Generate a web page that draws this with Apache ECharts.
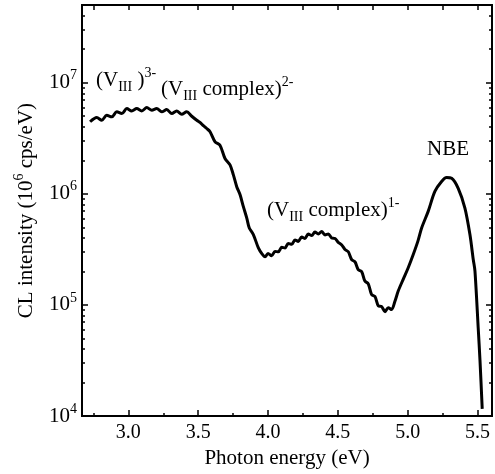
<!DOCTYPE html>
<html><head><meta charset="utf-8">
<script src="https://cdn.jsdelivr.net/npm/echarts@6/dist/echarts.min.js"></script>
<style>html,body{margin:0;padding:0;background:#fff}#c{width:495px;height:474px}</style>
</head><body><div id="c"></div>
<script>
// Photon energy (eV)
const energy = [2.726,2.774,2.810,2.845,2.881,2.917,2.953,2.989,3.024,3.060,3.096,3.132,3.168,3.203,3.239,3.275,3.311,3.346,3.382,3.418,3.454,3.490,3.513,3.537,3.561,3.585,3.621,3.656,3.692,3.728,3.752,3.776,3.800,3.823,3.848,3.866,3.895,3.931,3.957,3.979,4.000,4.026,4.050,4.074,4.098,4.122,4.145,4.170,4.193,4.217,4.241,4.265,4.288,4.313,4.336,4.360,4.384,4.408,4.432,4.456,4.480,4.503,4.528,4.551,4.575,4.599,4.623,4.646,4.671,4.694,4.718,4.742,4.766,4.790,4.814,4.838,4.861,4.885,4.909,4.933,4.968,5.004,5.040,5.074,5.100,5.147,5.195,5.243,5.279,5.315,5.362,5.410,5.446,5.470,5.482,5.505,5.518,5.534];
// CL intensity (cps/eV)
const intensity = [4.45e6,4.86e6,4.59e6,5.09e6,4.93e6,5.47e6,5.27e6,5.85e6,5.57e6,5.85e6,5.57e6,5.97e6,5.65e6,5.85e6,5.47e6,5.73e6,5.27e6,5.57e6,5.20e6,5.47e6,4.99e6,4.59e6,4.39e6,4.10e6,3.87e6,3.62e6,2.94e6,2.74e6,2.08e6,1.82e6,1.48e6,1.16e6,9.80e5,7.71e5,6.05e5,4.92e5,4.30e5,3.26e5,2.88e5,2.71e5,2.91e5,2.77e5,3.03e5,3.01e5,3.30e5,3.26e5,3.58e5,3.51e5,3.85e5,3.73e5,4.09e5,3.97e5,4.35e5,4.22e5,4.54e5,4.35e5,4.58e5,4.27e5,4.35e5,4.01e5,3.97e5,3.66e5,3.47e5,3.16e5,3.01e5,2.56e5,2.44e5,2.08e5,1.99e5,1.64e5,1.55e5,1.24e5,1.19e5,9.80e4,9.66e4,8.71e4,9.46e4,9.08e4,1.08e5,1.34e5,1.70e5,2.16e5,2.84e5,3.77e5,4.92e5,6.95e5,1.05e6,1.29e6,1.40e6,1.38e6,1.12e6,7.45e5,4.30e5,2.55e5,2.02e5,6.27e4,3.17e4,1.16e4];

const xMajor = [3.0,3.5,4.0,4.5,5.0,5.5];
const xMinor = [2.75,3.25,3.75,4.25,4.75,5.25];
const xAll = [2.75,3.0,3.25,3.5,3.75,4.0,4.25,4.5,4.75,5.0,5.25,5.5];
const yMajor = [1e4,1e5,1e6,1e7];
const yMinor = [2e4,3e4,4e4,5e4,6e4,7e4,8e4,9e4,2e5,3e5,4e5,5e5,6e5,7e5,8e5,9e5,2e6,3e6,4e6,5e6,6e6,7e6,8e6,9e6,2e7,3e7,4e7];

const FONT = 'Liberation Serif';
const X_MIN = 2.668, X_MAX = 5.604, Y_MIN = 1e4, Y_MAX = 5e7;

function xAx(pos, ticks, len, opts) {
  return Object.assign({
    type: 'value', position: pos, min: X_MIN, max: X_MAX,
    axisLine: {show: true, lineStyle: {color: '#000', width: 2}},
    axisTick: {show: true, inside: true, length: len, customValues: ticks, lineStyle: {color: '#000', width: 1.5}},
    axisLabel: {show: false}, splitLine: {show: false}
  }, opts || {});
}
function yAx(pos, ticks, len, opts) {
  return Object.assign({
    type: 'log', logBase: 10, position: pos, min: Y_MIN, max: Y_MAX,
    axisLine: {show: true, lineStyle: {color: '#000', width: 2}},
    axisTick: {show: true, inside: true, length: len, customValues: ticks, lineStyle: {color: '#000', width: 1.5}},
    axisLabel: {show: false}, splitLine: {show: false}
  }, opts || {});
}

const tickRich = {
  b: {fontFamily: FONT, fontSize: 21, color: '#000', lineHeight: 28},
  s: {fontFamily: FONT, fontSize: 14, color: '#000', lineHeight: 13, verticalAlign: 'top'}
};
const titleRich = {
  b: {fontFamily: FONT, fontSize: 21, color: '#000', lineHeight: 28},
  s: {fontFamily: FONT, fontSize: 14, color: '#000', lineHeight: 13, verticalAlign: 'top'}
};
const annRich = {
  a: {fontFamily: FONT, fontSize: 21, color: '#000', lineHeight: 28},
  d: {fontFamily: FONT, fontSize: 14, color: '#000', lineHeight: 13, verticalAlign: 'bottom'},
  u: {fontFamily: FONT, fontSize: 14, color: '#000', lineHeight: 13, verticalAlign: 'top'}
};

const chart = echarts.init(document.getElementById('c'), null, {renderer: 'canvas'});
chart.setOption({
  backgroundColor: '#fff',
  animation: false,
  grid: {left: 82, right: 3, top: 5, bottom: 55, containLabel: false},
  xAxis: [
    xAx('bottom', xMajor, 6, {
      name: 'Photon energy (eV)', nameLocation: 'middle', nameGap: 24,
      nameTextStyle: {fontFamily: FONT, fontSize: 21, color: '#000'},
      axisLabel: {show: true, customValues: xMajor, margin: 7, fontFamily: FONT, fontSize: 20, color: '#000',
        formatter: v => v.toFixed(1)}
    }),
    xAx('bottom', xMinor, 3),
    xAx('top', xAll, 5)
  ],
  yAxis: [
    yAx('left', yMajor, 6, {
      name: '{b|CL intensity (10}{s|6}{b| cps/eV)}', nameLocation: 'middle', nameGap: 42, nameRotate: 90,
      nameTextStyle: {rich: titleRich},
      axisLabel: {show: true, customValues: yMajor, margin: 5, rich: tickRich,
        formatter: v => '{b|10}{s|' + Math.round(Math.log10(v)) + '}'}
    }),
    yAx('left', yMinor, 3),
    yAx('right', yMajor, 6),
    yAx('right', yMinor, 3)
  ],
  series: [{
    type: 'line', xAxisIndex: 0, yAxisIndex: 0,
    data: energy.map((e, i) => [e, intensity[i]]),
    showSymbol: false, symbol: 'none', smooth: 0.3,
    lineStyle: {color: '#000', width: 3}
  }],
  graphic: [
    {type: 'text', left: 96, top: 66, style: {text: '{a|(V}{d|III}{a| )}{u|3-}', rich: annRich}},
    {type: 'text', left: 161, top: 75, style: {text: '{a|(V}{d|III}{a| complex)}{u|2-}', rich: annRich}},
    {type: 'text', left: 267, top: 196, style: {text: '{a|(V}{d|III}{a| complex)}{u|1-}', rich: annRich}},
    {type: 'text', left: 427, top: 139, style: {text: '{a|NBE}', rich: annRich}}
  ]
});
</script>
</body></html>
